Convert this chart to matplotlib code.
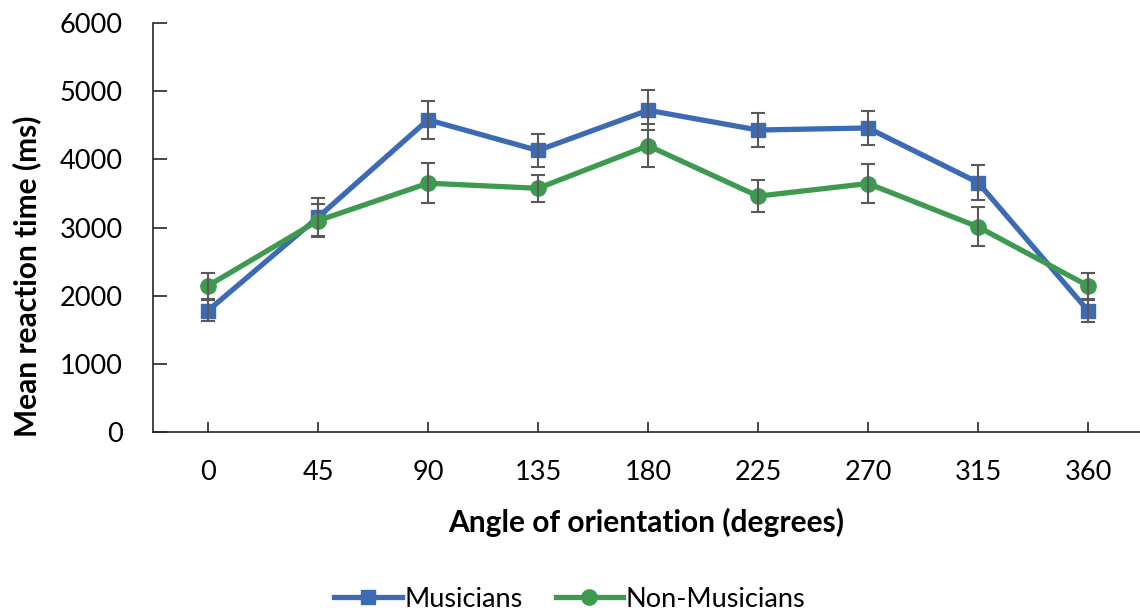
import numpy as np
import matplotlib
matplotlib.use("Agg")
import matplotlib.pyplot as plt

plt.rcParams['font.family'] = ['Lato', 'DejaVu Sans']

angles = ["0", "45", "90", "135", "180", "225", "270", "315", "360"]

musicians = [1780, 3150, 4580, 4130, 4720, 4430, 4460, 3660, 1780]
musicians_err = [150, 280, 280, 245, 290, 250, 250, 260, 160]

non_musicians = [2145, 3100, 3650, 3575, 4200, 3460, 3645, 3010, 2145]
non_musicians_err = [190, 245, 290, 200, 315, 235, 280, 285, 190]

blue = "#3C6BB4"
green = "#3E9A4F"
grey = "#595959"

fig = plt.figure(figsize=(11.4, 6.14), dpi=100)
ax = fig.add_axes([153 / 1140, 182 / 614, 990 / 1140, 409 / 614])

x = np.arange(len(angles))

ax.plot(x, musicians, color=blue, lw=3.8, marker="s", ms=10,
        label="Musicians", zorder=3)
ax.plot(x, non_musicians, color=green, lw=3.8, marker="o", ms=11,
        label="Non-Musicians", zorder=3)

ax.errorbar(x, musicians, yerr=musicians_err, fmt="none", ecolor=grey,
            elinewidth=1.5, capsize=5, capthick=1.5, zorder=4)
ax.errorbar(x, non_musicians, yerr=non_musicians_err, fmt="none",
            ecolor=grey, elinewidth=1.5, capsize=5, capthick=1.5, zorder=4)

ax.set_xlim(-0.5, 8.5)
ax.set_ylim(0, 6000)
ax.set_xticks(x)
ax.set_xticklabels(angles)
ax.set_yticks(range(0, 6001, 1000))

for side in ["top", "right"]:
    ax.spines[side].set_visible(False)
for side in ["left", "bottom"]:
    ax.spines[side].set_color("#262626")
    ax.spines[side].set_linewidth(1.2)

ax.tick_params(axis="y", direction="in", length=10, width=1.2,
               color="#262626", labelsize=19.5, pad=22)
ax.tick_params(axis="x", direction="in", length=7, width=1.2,
               color="#262626", labelsize=19.5, pad=20)

# axis titles placed like the Excel original (y title sits lower than axis centre)
fig.text(646 / 1140, (614 - 522) / 614, "Angle of orientation (degrees)",
         fontsize=21.5, fontweight="bold", ha="center", va="center")
fig.text(27 / 1140, (614 - 276) / 614, "Mean reaction time (ms)",
         fontsize=21.5, fontweight="bold", ha="center", va="center",
         rotation=90)

fig.legend(loc="center", bbox_to_anchor=(0.5, 0.024), ncol=2,
           frameon=False, fontsize=19.5, handlelength=2.5,
           handletextpad=0.1, columnspacing=1.2)

fig.savefig("out.png", dpi=100)
